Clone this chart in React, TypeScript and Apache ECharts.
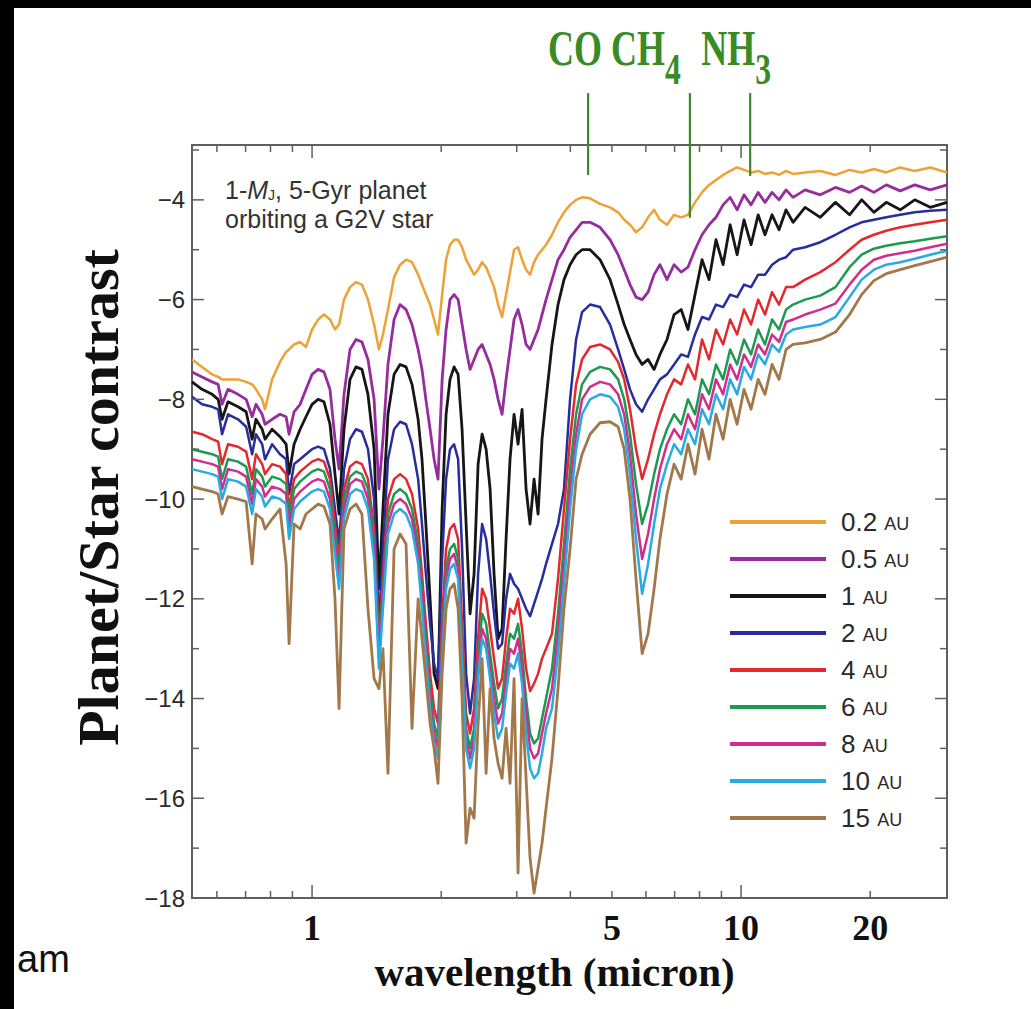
import React, { useEffect, useRef } from "react";
import * as echarts from "echarts";

// ---------------- data ----------------
// wavelength grid (micron), shared by all spectra
const wavelength = [
  0.525, 0.554, 0.585, 0.604, 0.617, 0.637, 0.672, 0.702, 0.725, 0.74, 0.765, 0.777, 0.807, 0.842, 0.87, 0.884, 0.908, 0.938, 0.968, 1.0,
  1.033, 1.066, 1.101, 1.131, 1.156, 1.187, 1.226, 1.266, 1.307, 1.35, 1.395, 1.432, 1.463, 1.503, 1.553, 1.604, 1.656, 1.71, 1.767,
  1.804, 1.842, 1.884, 1.925, 1.966, 2.01, 2.053, 2.097, 2.143, 2.19, 2.237, 2.286, 2.335, 2.386, 2.438, 2.491, 2.545, 2.6, 2.656, 2.714, 2.773, 2.833, 2.894, 2.957, 3.021, 3.087, 3.154, 3.222, 3.292, 3.364, 3.436, 3.511,
  3.625, 3.744, 3.866, 3.994, 4.125, 4.26, 4.446, 4.691, 4.95, 5.168, 5.34, 5.51, 5.69, 5.88, 6.07, 6.27, 6.47, 6.72, 6.98, 7.25, 7.52, 7.81, 8.11, 8.42, 8.74, 9.08, 9.43, 9.79, 10.16, 10.55, 10.96, 11.37, 11.81, 12.26, 12.73, 13.22,
  14.1, 15.3, 16.6, 17.9, 19.1, 20.4, 21.8, 23.5, 25.4, 27.6, 30.2,
];

// log10(planet/star contrast) for each orbital distance
const au02 = [
  -7.2, -7.35, -7.5, -7.55, -7.6, -7.6, -7.6, -7.65, -7.7, -7.8, -8.0, -8.2, -7.6, -7.25, -7.05, -7.0, -6.9, -6.85, -6.95, -6.6,
  -6.4, -6.3, -6.4, -6.6, -6.5, -6.0, -5.75, -5.65, -5.7, -6.0, -6.5, -7.0, -6.7, -6.2, -5.55, -5.3, -5.2, -5.25, -5.5,
  -5.7, -5.9, -6.1, -6.4, -6.7, -5.9, -5.2, -4.9, -4.8, -4.8, -4.95, -5.2, -5.35, -5.5, -5.4, -5.25, -5.35, -5.55, -5.75, -6.1, -6.35, -5.9, -5.45, -5.0, -4.95, -5.2, -5.4, -5.5, -5.25, -5.1, -5.0, -4.9,
  -4.7, -4.45, -4.25, -4.1, -4.0, -3.95, -3.97, -4.08, -4.15, -4.25, -4.4, -4.5, -4.65, -4.55, -4.35, -4.2, -4.4, -4.5, -4.3, -4.35, -4.3, -4.05, -3.85, -3.7, -3.6, -3.5, -3.42, -3.35, -3.4, -3.45, -3.42, -3.48, -3.45, -3.5, -3.42, -3.48,
  -3.45, -3.42, -3.5, -3.4, -3.45, -3.38, -3.45, -3.35, -3.42, -3.35, -3.45,
];
const au05 = [
  -7.45, -7.55, -7.65, -7.7, -8.1, -7.8, -7.9, -8.0, -8.35, -8.1, -8.3, -8.5, -8.4, -8.3, -8.35, -8.7, -8.25, -8.1, -7.8, -7.5,
  -7.4, -7.45, -7.8, -8.8, -9.4, -7.9, -7.0, -6.8, -6.85, -7.2, -8.0, -9.8, -8.8, -7.3, -6.4, -6.1, -6.2, -6.5, -7.0,
  -7.4, -8.0, -8.6, -9.2, -9.6, -7.6, -6.6, -6.0, -5.9, -6.0, -6.5, -7.0, -7.4, -7.2, -7.0, -6.9, -7.1, -7.3, -7.6, -8.0, -8.3, -7.6, -7.0, -6.4, -6.2, -6.5, -6.9, -7.0, -6.8, -6.6, -6.3, -6.0,
  -5.6, -5.2, -5.0, -4.75, -4.6, -4.45, -4.45, -4.55, -4.8, -5.1, -5.4, -5.7, -5.95, -6.0, -5.85, -5.5, -5.3, -5.6, -5.3, -5.45, -5.35, -5.0, -4.7, -4.5, -4.35, -4.1, -3.95, -4.2, -3.9, -4.1, -3.85, -4.05, -3.85, -4.0, -3.8, -3.95,
  -3.8, -3.9, -3.75, -3.85, -3.72, -3.85, -3.7, -3.82, -3.7, -3.8, -3.7,
];
const au1 = [
  -7.65, -7.8, -7.9, -8.0, -8.4, -8.05, -8.15, -8.25, -8.8, -8.4, -8.6, -8.8, -8.6, -8.75, -8.9, -9.5, -8.9, -8.6, -8.35, -8.1,
  -8.0, -8.05, -8.5, -9.5, -10.3, -8.6, -7.6, -7.35, -7.4, -7.9, -9.0, -11.8, -10.2, -8.3, -7.5, -7.3, -7.35, -7.7, -8.4,
  -9.2, -10.5, -12.0, -13.5, -13.8, -10.2, -8.3, -7.6, -7.35, -7.5, -8.6, -10.5, -12.3, -11.5, -9.3, -8.7, -9.0, -9.8, -11.5, -12.8, -12.6, -10.8, -9.2, -8.3, -8.9, -8.2, -9.8, -10.5, -9.6, -10.3, -8.8, -8.0,
  -6.9, -6.1, -5.6, -5.3, -5.1, -5.0, -5.0, -5.2, -5.6, -6.1, -6.5, -6.8, -7.1, -7.3, -7.2, -7.4, -7.1, -6.8, -6.3, -6.2, -6.6, -5.9, -5.2, -5.6, -4.8, -5.3, -4.5, -5.1, -4.4, -4.9, -4.3, -4.7, -4.3, -4.6, -4.2, -4.45,
  -4.15, -4.35, -4.05, -4.3, -4.0, -4.25, -4.05, -4.2, -4.0, -4.15, -4.05,
];
const au2 = [
  -7.95, -8.1, -8.15, -8.2, -8.7, -8.3, -8.4, -8.55, -9.1, -8.7, -8.9, -9.2, -8.9, -9.1, -9.2, -9.9, -9.3, -9.2, -9.1, -9.0,
  -8.95, -9.0, -9.4, -10.2, -10.9, -9.4, -8.8, -8.6, -8.65, -9.0, -10.0, -12.5, -11.0, -9.2, -8.6, -8.45, -8.5, -8.9, -9.6,
  -10.5, -11.5, -12.5, -13.3, -13.6, -11.2, -9.6, -9.0, -8.9, -9.2, -11.0, -13.5, -14.3, -13.6, -11.5, -10.5, -10.8, -11.5, -12.3, -13.0, -12.9, -12.0, -11.5, -11.7, -11.8, -12.0, -12.2, -12.35, -12.1, -11.85, -11.6, -11.3,
  -10.9, -10.5, -9.8, -8.0, -6.8, -6.25, -6.1, -6.15, -6.5, -7.0, -7.4, -7.8, -8.1, -8.25, -8.0, -7.8, -7.6, -7.5, -7.3, -7.1, -7.15, -6.7, -6.35, -6.4, -6.1, -6.15, -5.9, -5.95, -5.7, -5.75, -5.5, -5.5, -5.3, -5.2, -5.15, -5.0,
  -4.95, -4.85, -4.7, -4.55, -4.45, -4.4, -4.35, -4.3, -4.25, -4.22, -4.2,
];
const au4 = [
  -8.65, -8.7, -8.8, -8.85, -9.3, -8.9, -8.95, -9.05, -9.6, -9.1, -9.3, -9.5, -9.3, -9.35, -9.5, -10.2, -9.6, -9.45, -9.35, -9.25,
  -9.2, -9.25, -9.6, -10.5, -11.2, -9.8, -9.35, -9.25, -9.3, -9.6, -10.6, -12.8, -11.6, -10.0, -9.6, -9.5, -9.6, -9.9, -10.6,
  -11.5, -12.5, -13.5, -14.2, -14.5, -12.4, -11.0, -10.6, -10.5, -10.8, -12.5, -14.3, -14.7, -14.2, -12.8, -11.8, -12.0, -12.6, -13.2, -13.8, -13.6, -12.8, -12.2, -12.3, -12.0, -12.6, -13.4, -13.85, -13.7, -13.5, -13.2, -13.0,
  -12.7, -11.6, -10.2, -8.8, -7.7, -7.2, -6.95, -6.9, -7.0, -7.25, -7.6, -8.2, -9.0, -9.6, -9.2, -8.7, -8.3, -7.9, -7.6, -7.7, -7.3, -7.6, -6.8, -7.2, -6.6, -6.9, -6.4, -6.7, -6.2, -6.5, -6.0, -6.3, -5.85, -6.1, -5.75, -5.75,
  -5.6, -5.45, -5.25, -5.0, -4.8, -4.7, -4.62, -4.55, -4.5, -4.45, -4.4,
];
const au6 = [
  -9.0, -9.05, -9.1, -9.15, -9.6, -9.2, -9.25, -9.35, -9.9, -9.4, -9.55, -9.75, -9.55, -9.6, -9.7, -10.4, -9.8, -9.65, -9.55, -9.45,
  -9.4, -9.45, -9.8, -10.7, -11.4, -10.0, -9.55, -9.45, -9.5, -9.8, -10.8, -13.0, -11.8, -10.3, -9.9, -9.8, -9.9, -10.2, -10.9,
  -11.8, -12.8, -13.8, -14.5, -14.8, -12.8, -11.4, -11.0, -10.9, -11.2, -12.9, -14.6, -15.0, -14.6, -13.2, -12.3, -12.5, -13.1, -13.7, -14.2, -14.0, -13.3, -12.7, -12.8, -12.5, -13.1, -14.0, -14.7, -14.9, -14.8, -14.4, -14.0,
  -13.4, -12.3, -10.9, -9.4, -8.3, -7.7, -7.45, -7.35, -7.4, -7.6, -8.0, -8.7, -9.7, -10.5, -10.1, -9.5, -9.0, -8.6, -8.3, -8.5, -8.0, -8.3, -7.6, -7.9, -7.3, -7.6, -7.0, -7.3, -6.8, -7.1, -6.6, -6.9, -6.4, -6.6, -6.2, -6.1,
  -6.0, -5.92, -5.75, -5.35, -5.1, -4.98, -4.92, -4.87, -4.83, -4.78, -4.73,
];
const au8 = [
  -9.2, -9.25, -9.3, -9.35, -9.8, -9.4, -9.45, -9.55, -10.1, -9.6, -9.75, -9.95, -9.75, -9.8, -9.9, -10.6, -10.0, -9.85, -9.75, -9.65,
  -9.6, -9.65, -10.0, -10.9, -11.6, -10.2, -9.7, -9.6, -9.65, -10.0, -11.0, -13.2, -12.0, -10.5, -10.1, -10.0, -10.1, -10.4, -11.1,
  -12.0, -13.0, -14.0, -14.7, -15.0, -13.0, -11.6, -11.2, -11.1, -11.4, -13.1, -14.8, -15.2, -14.8, -13.4, -12.6, -12.8, -13.4, -14.0, -14.5, -14.3, -13.6, -13.0, -13.1, -12.8, -13.4, -14.3, -15.0, -15.2, -15.1, -14.7, -14.3,
  -13.8, -12.7, -11.3, -9.8, -8.7, -8.0, -7.75, -7.65, -7.7, -7.9, -8.3, -9.1, -10.3, -11.2, -10.7, -10.0, -9.4, -8.9, -8.6, -8.8, -8.3, -8.6, -7.9, -8.2, -7.6, -7.9, -7.3, -7.6, -7.1, -7.35, -6.9, -7.1, -6.7, -6.85, -6.45, -6.4,
  -6.3, -6.2, -6.08, -5.7, -5.4, -5.2, -5.12, -5.07, -5.02, -4.95, -4.88,
];
const au10 = [
  -9.4, -9.45, -9.5, -9.55, -10.0, -9.6, -9.65, -9.75, -10.3, -9.8, -9.95, -10.15, -9.95, -10.0, -10.1, -10.8, -10.2, -10.05, -9.95, -9.85,
  -9.8, -9.85, -10.2, -11.1, -11.8, -10.4, -9.9, -9.8, -9.85, -10.2, -11.2, -13.4, -12.2, -10.7, -10.3, -10.2, -10.3, -10.6, -11.3,
  -12.2, -13.2, -14.2, -14.9, -15.2, -13.2, -11.8, -11.4, -11.3, -11.6, -13.3, -15.0, -15.4, -15.0, -13.6, -12.8, -13.0, -13.6, -14.3, -14.8, -14.6, -13.9, -13.3, -13.4, -13.1, -13.7, -14.7, -15.4, -15.6, -15.5, -15.1, -14.6,
  -14.2, -13.1, -11.7, -10.2, -9.0, -8.3, -8.0, -7.9, -7.95, -8.15, -8.6, -9.5, -10.8, -11.9, -11.3, -10.5, -9.8, -9.3, -8.9, -9.1, -8.6, -8.9, -8.2, -8.5, -7.9, -8.2, -7.6, -7.9, -7.35, -7.6, -7.1, -7.3, -6.9, -7.05, -6.7, -6.6,
  -6.55, -6.5, -6.35, -5.95, -5.6, -5.4, -5.3, -5.25, -5.18, -5.1, -5.02,
];
const au15 = [
  -9.75, -9.8, -9.85, -9.9, -10.3, -9.95, -10.0, -10.05, -11.3, -10.3, -10.4, -10.6, -10.4, -10.2, -11.3, -12.9, -10.5, -10.6, -10.3, -10.2,
  -10.1, -10.15, -10.5, -12.0, -14.2, -10.6, -10.2, -10.1, -10.3, -12.2, -13.6, -13.8, -13.0, -15.5, -11.0, -10.7, -10.9, -14.6, -12.0,
  -12.8, -13.6, -14.5, -15.0, -15.7, -13.5, -12.2, -11.8, -11.7, -12.2, -14.0, -16.9, -16.2, -16.4, -14.5, -13.2, -15.5, -13.8, -14.8, -15.3, -15.6, -14.6, -15.7, -13.6, -17.5, -14.0, -15.6, -17.2, -17.9, -17.4, -16.9, -16.2,
  -15.2, -13.8, -12.2, -11.0, -9.6, -9.1, -8.7, -8.47, -8.45, -8.55, -9.0, -10.0, -11.6, -13.1, -12.7, -11.8, -10.8, -9.9, -9.3, -9.6, -8.9, -9.5, -8.6, -9.2, -8.3, -8.8, -8.0, -8.5, -7.8, -8.2, -7.6, -7.9, -7.3, -7.6, -7.0, -6.9,
  -6.87, -6.8, -6.65, -6.3, -5.9, -5.62, -5.48, -5.4, -5.32, -5.24, -5.15,
];

const seriesNames = ["0.2 AU", "0.5 AU", "1 AU", "2 AU", "4 AU", "6 AU", "8 AU", "10 AU", "15 AU"];
const spectra = [au02, au05, au1, au2, au4, au6, au8, au10, au15];

// axis ticks & labels
const xLabelValues = [1, 5, 10, 20];
const xTickValues = [0.6, 0.7, 0.8, 0.9, 1, 2, 3, 4, 5, 6, 7, 8, 9, 10, 20];
const xMajorTickValues = [1, 10];
const yTickValues = [-17, -16, -15, -14, -13, -12, -11, -10, -9, -8, -7, -6, -5, -4, -3];

// molecular features: wavelength, lower end of marker line (log contrast)
const moleculeWavelengths = [4.4, 7.6, 10.5];
const moleculeLineBottoms = [-3.5, -4.36, -3.52];
const moleculeLineTop = -1.86;

// ---------------- styling ----------------
const seriesColors = ["#EDA136", "#962C9E", "#161616", "#272D9C", "#E4282C", "#1C9A50", "#D22C8C", "#28AAE2", "#A2784A"];
const seriesWidths = [2.5, 2.8, 2.8, 2.5, 2.5, 2.5, 2.5, 2.5, 2.8];
const SANS = '"Liberation Sans", Arial, Helvetica, sans-serif';
const SERIF = '"Liberation Serif", "Times New Roman", Times, serif';
const AXIS_COLOR = "#5f5f5f";
const GREEN = "#3A8A26";
const X_MIN = 0.525;
const X_MAX = 30.2;
const Y_MIN = -18;
const Y_MAX = -2.9;

function buildOption(): any {
  const lineSeries = spectra.map((vals, i) => ({
    name: seriesNames[i],
    type: "line",
    data: wavelength.map((w, j) => [w, vals[j]]),
    showSymbol: false,
    symbol: "none",
    silent: true,
    lineStyle: { width: seriesWidths[i], color: seriesColors[i], join: "round" },
    itemStyle: { color: seriesColors[i] },
  }));

  const xTickSeries = {
    type: "custom",
    silent: true,
    z: 10,
    data: xTickValues.map((v) => [v, xMajorTickValues.indexOf(v) >= 0 ? 1 : 0]),
    renderItem: (_p: any, api: any) => {
      const v = api.value(0);
      const len = api.value(1) === 1 ? 13 : 7;
      const b = api.coord([v, Y_MIN]);
      const t = api.coord([v, Y_MAX]);
      return {
        type: "group",
        children: [
          { type: "line", shape: { x1: b[0], y1: b[1], x2: b[0], y2: b[1] - len }, style: { stroke: AXIS_COLOR, lineWidth: 1.5 } },
          { type: "line", shape: { x1: t[0], y1: t[1], x2: t[0], y2: t[1] + len }, style: { stroke: AXIS_COLOR, lineWidth: 1.5 } },
        ],
      };
    },
  };

  const yTickSeries = {
    type: "custom",
    silent: true,
    z: 10,
    data: yTickValues.map((v) => [X_MIN, v, v % 2 === 0 ? 1 : 0]),
    renderItem: (_p: any, api: any) => {
      const v = api.value(1);
      const len = api.value(2) === 1 ? 12 : 7;
      const l = api.coord([X_MIN, v]);
      const r = api.coord([X_MAX, v]);
      return {
        type: "group",
        children: [
          { type: "line", shape: { x1: l[0], y1: l[1], x2: l[0] + len, y2: l[1] }, style: { stroke: AXIS_COLOR, lineWidth: 1.5 } },
          { type: "line", shape: { x1: r[0], y1: r[1], x2: r[0] - len, y2: r[1] }, style: { stroke: AXIS_COLOR, lineWidth: 1.5 } },
        ],
      };
    },
  };

  const moleculeSeries = {
    type: "custom",
    silent: true,
    z: 11,
    clip: false,
    data: moleculeWavelengths.map((w, i) => [w, moleculeLineBottoms[i]]),
    renderItem: (_p: any, api: any) => {
      const w = api.value(0);
      const b = api.coord([w, api.value(1)]);
      const t = api.coord([w, moleculeLineTop]);
      return { type: "line", shape: { x1: b[0], y1: b[1], x2: t[0], y2: t[1] }, style: { stroke: GREEN, lineWidth: 2.2 } };
    },
  };

  return {
    animation: false,
    backgroundColor: "#ffffff",
    grid: { left: 192, top: 145, right: 84, bottom: 111, show: true, borderColor: AXIS_COLOR, borderWidth: 2, backgroundColor: "transparent" },
    xAxis: [
      {
        type: "log",
        logBase: 10,
        min: X_MIN,
        max: X_MAX,
        axisLine: { show: false },
        axisTick: { show: false },
        axisLabel: { show: false },
        splitLine: { show: false },
        minorTick: { show: false },
      },
      {
        type: "value",
        gridIndex: 0,
        position: "bottom",
        min: Math.log10(X_MIN),
        max: Math.log10(X_MAX),
        axisLine: { show: false },
        axisTick: { show: false },
        splitLine: { show: false },
        axisLabel: {
          customValues: xLabelValues.map((v) => Math.log10(v)),
          formatter: (v: number) => String(Math.round(Math.pow(10, v))),
          fontFamily: SERIF,
          fontWeight: "bold",
          fontSize: 36,
          color: "#111",
          margin: 12,
        },
        name: "wavelength (micron)",
        nameLocation: "middle",
        nameGap: 53,
        nameMoveOverlap: false,
        nameTextStyle: { fontFamily: SERIF, fontWeight: "bold", fontSize: 41, color: "#111", padding: [0, 30, 0, 0] },
      },
    ],
    yAxis: [
      {
        type: "value",
        min: Y_MIN,
        max: Y_MAX,
        interval: 2,
        axisLine: { show: false },
        axisTick: { show: false },
        splitLine: { show: false },
        axisLabel: {
          showMaxLabel: false,
          formatter: (v: number) => (v < 0 ? "\u2212" + Math.abs(v) : String(v)),
          fontFamily: SANS,
          fontSize: 24,
          color: "#2a2a2a",
          margin: 7,
        },
        name: "Planet/Star contrast",
        nameLocation: "middle",
        nameRotate: 90,
        nameGap: 65,
        nameMoveOverlap: false,
        nameTextStyle: { fontFamily: SERIF, fontWeight: "bold", fontSize: 58, color: "#111", padding: [0, 0, 0, 48] },
      },
    ],
    legend: {
      data: seriesNames,
      orient: "vertical",
      left: 730,
      top: 509,
      padding: 0,
      icon: "rect",
      itemWidth: 96,
      itemHeight: 4,
      itemGap: 11,
      selectedMode: false,
      formatter: (name: string) => {
        const num = name.split(" ")[0];
        return "{n|" + num + " }{u|AU}";
      },
      textStyle: {
        rich: {
          n: { fontFamily: SANS, fontSize: 26, lineHeight: 22, color: "#2a2a2a", padding: [0, 0, 0, 10] },
          u: { fontFamily: SANS, fontSize: 18, lineHeight: 16, color: "#2a2a2a", verticalAlign: "bottom" },
        },
      },
    },
    graphic: [
      { type: "rect", left: 0, top: 0, z: 100, shape: { width: 14, height: 1009 }, style: { fill: "#000" } },
      { type: "rect", left: 0, top: 0, z: 100, shape: { width: 1031, height: 8 }, style: { fill: "#000" } },
      {
        type: "text",
        left: 17,
        top: 940,
        z: 100,
        style: { text: "am", fontFamily: SANS, fontSize: 38, fill: "#111" },
      },
      {
        type: "text",
        left: 225,
        top: 177,
        z: 100,
        style: {
          text: "{t|1-}{i|M}{b|J}{t|, 5-Gyr planet}",
          fontFamily: SANS,
          fontSize: 25,
          fill: "#333",
          rich: {
            t: { fontFamily: SANS, fontSize: 25, fill: "#333", lineHeight: 24 },
            i: { fontFamily: SANS, fontSize: 25, fontStyle: "italic", fill: "#333", lineHeight: 24 },
            b: { fontFamily: SANS, fontSize: 14, fill: "#333", lineHeight: 12, verticalAlign: "bottom" },
          },
        },
      },
      {
        type: "text",
        left: 225,
        top: 206,
        z: 100,
        style: { text: "orbiting a G2V star", fontFamily: SANS, fontSize: 25, lineHeight: 24, fill: "#333" },
      },
      {
        type: "text",
        left: 548,
        top: 23,
        z: 100,
        scaleX: 0.72,
        style: {
          text: "{m|CO} {m|CH}{s|4} {m|NH}{s|3}",
          fontFamily: SERIF,
          fontWeight: "bold",
          fontSize: 50,
          fill: GREEN,
          rich: {
            m: { fontFamily: SERIF, fontWeight: "bold", fontSize: 50, lineHeight: 50, fill: GREEN, verticalAlign: "top" },
            s: { fontFamily: SERIF, fontWeight: "bold", fontSize: 44, lineHeight: 44, fill: GREEN, verticalAlign: "top", padding: [24, 16, 0, 0] },
          },
        },
      },
    ],
    series: [...lineSeries, xTickSeries, yTickSeries, moleculeSeries],
  };
}

export default function App() {
  const ref = useRef<HTMLDivElement>(null);
  useEffect(() => {
    if (!ref.current) return;
    const chart = echarts.init(ref.current, null, { renderer: "svg" });
    chart.setOption(buildOption());
    return () => {
      chart.dispose();
    };
  }, []);
  return (
    <div
      ref={ref}
      style={{ position: "absolute", left: 0, top: 0, width: 1031, height: 1009, background: "#fff" }}
    />
  );
}
